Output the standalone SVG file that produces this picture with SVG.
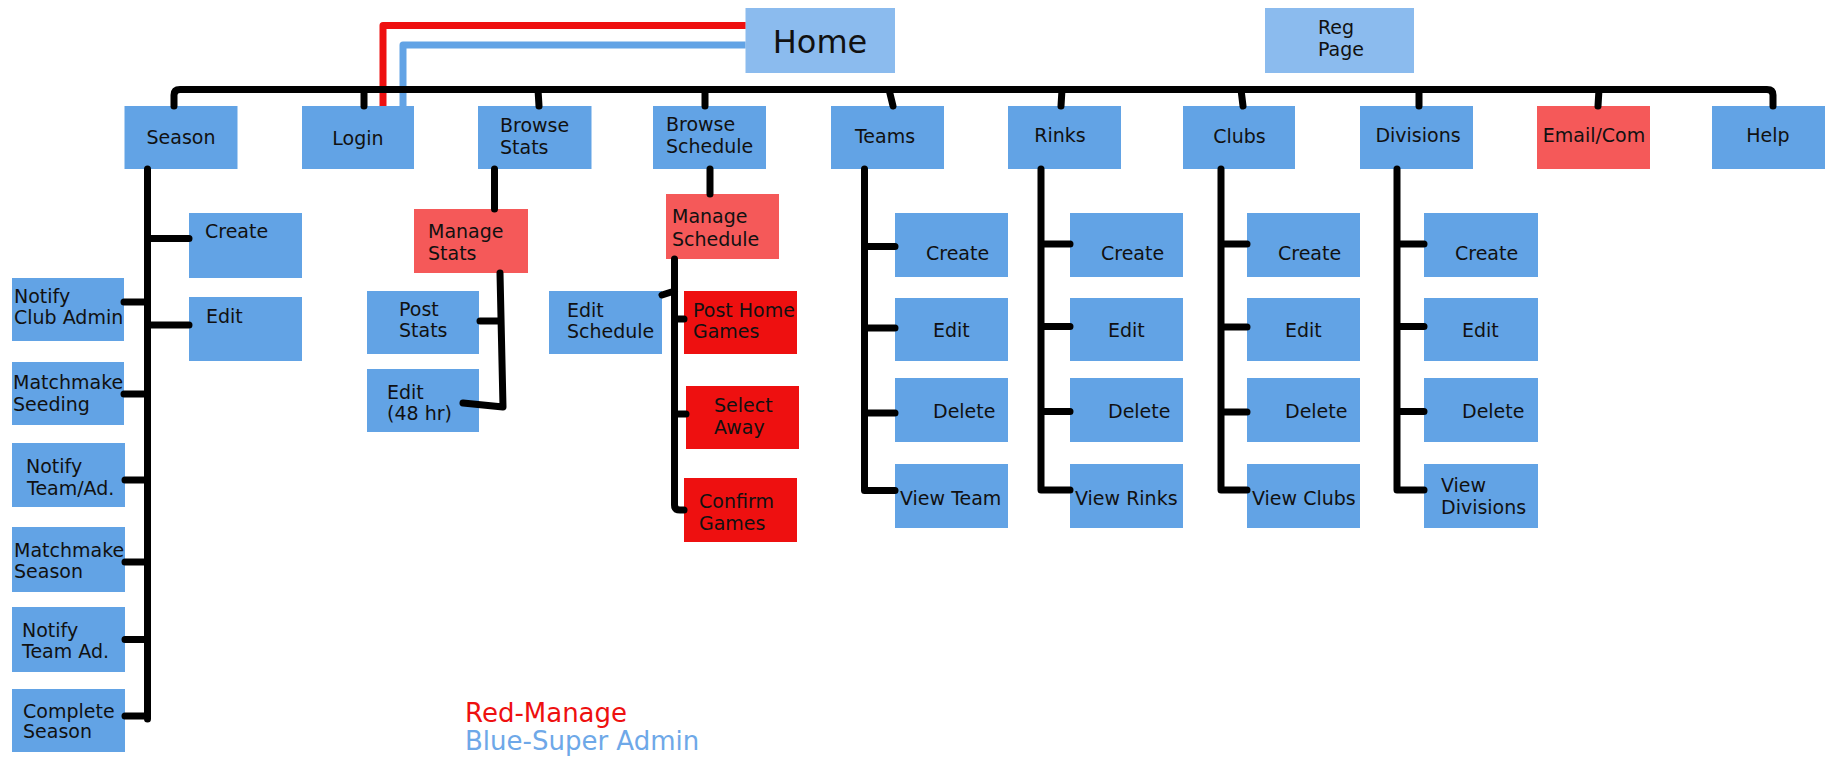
<svg xmlns="http://www.w3.org/2000/svg" width="1828" height="759" viewBox="0 0 1828 759">
<style>
.b{fill:#62A3E5}
.l{fill:#8BBBEE}
.m{fill:#F00000;fill-opacity:0.65}
.r{fill:#EE1010}
text{font-family:"DejaVu Sans",Verdana,sans-serif;font-size:19px;fill:#111}
.c{text-anchor:middle}
.k{fill:none;stroke:#000;stroke-width:7;stroke-linecap:round;stroke-linejoin:round}
.rl{fill:none;stroke:#EE1010;stroke-width:7;stroke-linejoin:round}
.bl{fill:none;stroke:#62A3E5;stroke-width:7;stroke-linejoin:round}
.leg{font-size:26px}
</style>
<rect width="1828" height="759" fill="#fff"/>

<g id="home"><rect class="l" x="745.5" y="8" width="149.5" height="65"/><text class="c" x="820" y="53" style="font-size:32px">Home</text></g>
<g id="regpage"><rect class="l" x="1265" y="8" width="149" height="65"/><text x="1318" y="34">Reg</text><text x="1318" y="56">Page</text></g>

<g id="season"><rect class="b" x="124.5" y="106" width="113" height="63"/><text class="c" x="181" y="144">Season</text></g>
<g id="login"><rect class="b" x="302" y="106" width="112" height="63"/><text class="c" x="358" y="145">Login</text></g>
<g id="browsestats"><rect class="b" x="478" y="106" width="113.5" height="63"/><text x="500" y="132">Browse</text><text x="500" y="154">Stats</text></g>
<g id="browseschedule"><rect class="b" x="653" y="106" width="113" height="63"/><text x="666" y="131">Browse</text><text x="666" y="153">Schedule</text></g>
<g id="teams"><rect class="b" x="831" y="106" width="113" height="63"/><text class="c" x="885" y="143">Teams</text></g>
<g id="rinks"><rect class="b" x="1008" y="106" width="113" height="63"/><text class="c" x="1060" y="142">Rinks</text></g>
<g id="clubs"><rect class="b" x="1183" y="106" width="112" height="63"/><text class="c" x="1239.5" y="143">Clubs</text></g>
<g id="divisions"><rect class="b" x="1360" y="106" width="113" height="63"/><text class="c" x="1418" y="142">Divisions</text></g>
<g id="emailcom"><rect class="m" x="1537" y="106" width="113" height="63"/><text class="c" x="1594" y="142">Email/Com</text></g>
<g id="help"><rect class="b" x="1712" y="106" width="113" height="63"/><text class="c" x="1768" y="142">Help</text></g>

<g id="season-create"><rect class="b" x="189" y="213" width="113" height="65"/><text x="205" y="238">Create</text></g>
<g id="season-edit"><rect class="b" x="189" y="297" width="113" height="64"/><text x="206" y="323">Edit</text></g>
<g id="notify-club-admin"><rect class="b" x="12" y="278" width="112" height="63"/><text x="14" y="303">Notify</text><text x="14" y="324">Club Admin</text></g>
<g id="matchmake-seeding"><rect class="b" x="12" y="362" width="112" height="63"/><text x="13" y="389">Matchmake</text><text x="13" y="411">Seeding</text></g>
<g id="notify-team-ad1"><rect class="b" x="12" y="443" width="113" height="64"/><text x="26" y="473">Notify</text><text x="27" y="495">Team/Ad.</text></g>
<g id="matchmake-season"><rect class="b" x="12" y="527" width="113" height="65"/><text x="14" y="557">Matchmake</text><text x="14" y="578">Season</text></g>
<g id="notify-team-ad2"><rect class="b" x="12" y="607" width="113" height="65"/><text x="22" y="637">Notify</text><text x="22" y="658">Team Ad.</text></g>
<g id="complete-season"><rect class="b" x="12" y="689" width="113" height="63"/><text x="23" y="718">Complete</text><text x="23" y="738">Season</text></g>

<g id="manage-stats"><rect class="m" x="414" y="209" width="114" height="64"/><text x="428" y="238">Manage</text><text x="428" y="260">Stats</text></g>
<g id="post-stats"><rect class="b" x="367" y="291" width="112" height="63"/><text x="399" y="316">Post</text><text x="399" y="337">Stats</text></g>
<g id="edit-48"><rect class="b" x="367" y="369" width="112" height="63"/><text x="387" y="399">Edit</text><text x="387" y="420">(48 hr)</text></g>

<g id="manage-schedule"><rect class="m" x="666" y="194" width="113" height="65"/><text x="672" y="223">Manage</text><text x="672" y="246">Schedule</text></g>
<g id="edit-schedule"><rect class="b" x="549" y="291" width="113" height="63"/><text x="567" y="317">Edit</text><text x="567" y="338">Schedule</text></g>
<g id="post-home-games"><rect class="r" x="684" y="291" width="113" height="63"/><text x="693" y="317">Post Home</text><text x="693" y="338">Games</text></g>
<g id="select-away"><rect class="r" x="686" y="386" width="113" height="63"/><text x="714" y="412">Select</text><text x="714" y="434">Away</text></g>
<g id="confirm-games"><rect class="r" x="684" y="478" width="113" height="64"/><text x="699" y="508">Confirm</text><text x="699" y="530">Games</text></g>

<g id="teams-create"><rect class="b" x="895" y="213" width="113" height="64"/><text x="926" y="260">Create</text></g>
<g id="teams-edit"><rect class="b" x="895" y="298" width="113" height="63"/><text x="933" y="337">Edit</text></g>
<g id="teams-delete"><rect class="b" x="895" y="378" width="113" height="64"/><text x="933" y="418">Delete</text></g>
<g id="teams-view"><rect class="b" x="895" y="464" width="113" height="64"/><text x="900" y="505">View Team</text></g>

<g id="rinks-create"><rect class="b" x="1070" y="213" width="113" height="64"/><text x="1101" y="260">Create</text></g>
<g id="rinks-edit"><rect class="b" x="1070" y="298" width="113" height="63"/><text x="1108" y="337">Edit</text></g>
<g id="rinks-delete"><rect class="b" x="1070" y="378" width="113" height="64"/><text x="1108" y="418">Delete</text></g>
<g id="rinks-view"><rect class="b" x="1070" y="464" width="113" height="64"/><text x="1075" y="505">View Rinks</text></g>

<g id="clubs-create"><rect class="b" x="1247" y="213" width="113" height="64"/><text x="1278" y="260">Create</text></g>
<g id="clubs-edit"><rect class="b" x="1247" y="298" width="113" height="63"/><text x="1285" y="337">Edit</text></g>
<g id="clubs-delete"><rect class="b" x="1247" y="378" width="113" height="64"/><text x="1285" y="418">Delete</text></g>
<g id="clubs-view"><rect class="b" x="1247" y="464" width="113" height="64"/><text x="1252" y="505">View Clubs</text></g>

<g id="divisions-create"><rect class="b" x="1424" y="213" width="114" height="64"/><text x="1455" y="260">Create</text></g>
<g id="divisions-edit"><rect class="b" x="1424" y="298" width="114" height="63"/><text x="1462" y="337">Edit</text></g>
<g id="divisions-delete"><rect class="b" x="1424" y="378" width="114" height="64"/><text x="1462" y="418">Delete</text></g>
<g id="divisions-view"><rect class="b" x="1424" y="464" width="114" height="64"/><text x="1441" y="492">View</text><text x="1441" y="514">Divisions</text></g>

<g id="connectors">
<path class="rl" d="M383,106 V25.5 H745.5"/>
<path class="bl" d="M403,106 V45 H745.5"/>
<path class="k" d="M174,106 V95 Q174,89.5 180,89.5 H1767 Q1773,89.5 1773,95 V106"/>
<path class="k" d="M364,89.5 V106 M538,89.5 L539,106 M705,89.5 V106 M889,89.5 L893,106 M1062,89.5 L1061,106 M1241,89.5 L1243,106 M1419,89.5 V106 M1599,89.5 L1598,106"/>
<path class="k" d="M147.5,169 V719 M147.5,238.5 H189 M147.5,325 H189 M124,302 H147.5 M124,394 H147.5 M125,480 H147.5 M125,562 H147.5 M125,639.5 H147.5 M125,716 H147.5"/>
<path class="k" d="M494.5,169 V209 M500,273 L503,407 L463,403 M480,321 H498"/>
<path class="k" d="M710,169 V194 M674.5,259 V505 Q674.5,510 680,510 H684 M662,295 L674.5,291 M674.5,319 H684 M674.5,414 H686"/>
<path class="k" d="M864.5,169 V490.5 H895 M864.5,246.5 H895 M864.5,328 H895 M864.5,413 H895"/>
<path class="k" d="M1041,169 V490 H1070 M1041,244 H1070 M1041,326.5 H1070 M1041,411.5 H1070"/>
<path class="k" d="M1221,169 V490 H1247 M1221,244 H1247 M1221,327 H1247 M1221,412 H1247"/>
<path class="k" d="M1397,169 V490 H1424 M1397,244 H1424 M1397,326.5 H1424 M1397,411.5 H1424"/>
</g>

<g id="legend">
<text class="leg" x="465" y="722" style="fill:#EE1010">Red-Manage</text>
<text class="leg" x="465" y="750" style="fill:#6EA8E8">Blue-Super Admin</text>
</g>
</svg>
